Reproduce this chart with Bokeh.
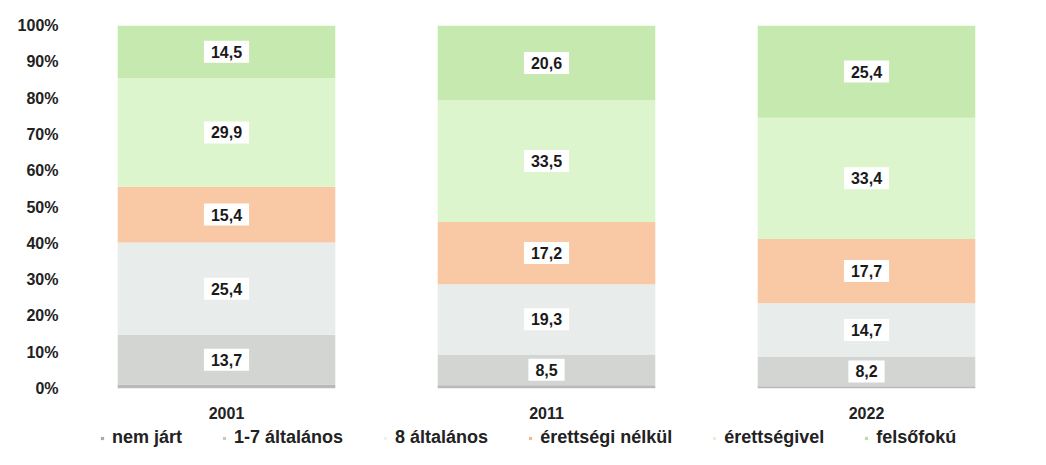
from bokeh.plotting import figure
from bokeh.layouts import column
from bokeh.models import ColumnDataSource, Legend, LegendItem, FixedTicker, PrintfTickFormatter, FactorRange, Range1d
from bokeh.core.properties import value
from bokeh.embed import file_html
from bokeh.resources import INLINE

years = ["2001", "2011", "2022"]
series = ["nem járt", "1-7 általános", "8 általános", "érettségi nélkül", "érettségivel", "felsőfokú"]
nem_jart = [1.1, 0.9, 0.6]
alt_1_7 = [13.7, 8.5, 8.2]
alt_8 = [25.4, 19.3, 14.7]
erettsegi_nelkul = [15.4, 17.2, 17.7]
erettsegivel = [29.9, 33.5, 33.4]
felsofoku = [14.5, 20.6, 25.4]
yticks = list(range(0, 101, 10))

colors = ["#b8bab8", "#d3d5d3", "#e8ecea", "#f8c9a4", "#ddf5cd", "#c5e9ae"]
legend_colors = ["#a9aba9", "#c6c8c6", "#eef1ef", "#f5b98b", "#e0f6d2", "#b5e29c"]
cols = ["s0", "s1", "s2", "s3", "s4", "s5"]
vals = [nem_jart, alt_1_7, alt_8, erettsegi_nelkul, erettsegivel, felsofoku]

FONT = "Liberation Sans"

data = {"year": years}
for c, v in zip(cols, vals):
    data[c] = v
src = ColumnDataSource(data)

p = figure(x_range=FactorRange(*years, range_padding=0), y_range=(0, 100),
           frame_width=960, frame_height=363, output_backend="svg", toolbar_location=None,
           min_border_left=66, min_border_right=10, min_border_top=25, min_border_bottom=0)
p.outline_line_color = None
p.background_fill_color = "white"
p.xgrid.visible = False
p.ygrid.visible = False

p.vbar_stack(cols, x="year", width=0.68, source=src, color=colors, line_color=None)

# value labels for series 1..5
for i in range(1, 6):
    xs, ys, ts = [], [], []
    for j, y in enumerate(years):
        base = sum(vals[k][j] for k in range(i))
        xs.append(y)
        ys.append(base + vals[i][j] / 2)
        ts.append(f"{vals[i][j]:.1f}".replace(".", ","))
    lsrc = ColumnDataSource(dict(x=xs, y=ys, t=ts))
    p.text(x="x", y="y", text="t", source=lsrc, text_align="center", text_baseline="middle",
           text_font=value(FONT), text_font_style="bold", text_font_size="16px",
           text_color="#1a1a1a", background_fill_color="white", padding=(7, 5))

p.yaxis.ticker = FixedTicker(ticks=yticks)
p.yaxis.formatter = PrintfTickFormatter(format="%d%%")
p.yaxis.axis_line_color = None
p.yaxis.major_tick_line_color = None
p.yaxis.minor_tick_line_color = None
p.yaxis.major_label_text_font = FONT
p.yaxis.major_label_text_font_style = "bold"
p.yaxis.major_label_text_font_size = "16px"
p.yaxis.major_label_text_color = "#222222"
p.yaxis.major_label_standoff = 2

p.xaxis.axis_line_color = None
p.xaxis.major_tick_line_color = None
p.xaxis.major_label_text_font = FONT
p.xaxis.major_label_text_font_style = "bold"
p.xaxis.major_label_text_font_size = "16px"
p.xaxis.major_label_text_color = "#222222"
p.xaxis.major_label_standoff = 12

# legend in its own strip
lf = figure(frame_width=960, frame_height=32, output_backend="svg", toolbar_location=None,
            x_range=Range1d(0, 1), y_range=Range1d(0, 1),
            min_border_left=66, min_border_right=10, min_border_top=0, min_border_bottom=0)
lf.outline_line_color = None
lf.axis.visible = False
lf.grid.visible = False
items = []
for name, lc in zip(series, legend_colors):
    r = lf.scatter(x=[-5], y=[-5], marker="square", size=7, color=lc, line_color=None)
    items.append(LegendItem(label=name, renderers=[r]))
legend = Legend(items=items, orientation="horizontal", location=(32, 5),
                label_text_font=FONT, label_text_font_style="bold",
                label_text_font_size="18px", label_text_color="#222222",
                glyph_width=8, glyph_height=8, spacing=38, label_standoff=6,
                border_line_color=None, background_fill_alpha=0, padding=0, margin=0)
lf.add_layout(legend, "center")

layout = column(p, lf, spacing=0)
open("out.html", "w").write(file_html(layout, INLINE))
